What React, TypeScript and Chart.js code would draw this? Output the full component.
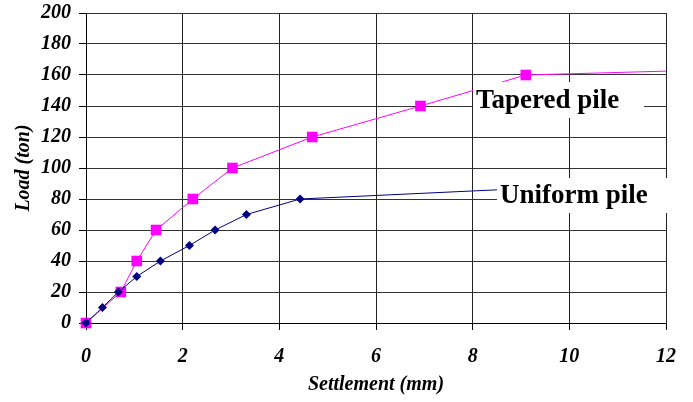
import React, { useEffect, useRef } from "react";
import { Chart, registerables } from "chart.js";

Chart.register(...registerables);

const taperedX = [0, 0.72, 1.05, 1.45, 2.21, 3.03, 4.68, 6.92, 9.1, 12];
const taperedY = [0, 20, 40, 60, 80, 100, 120, 140, 160, 162.5];
const uniformX = [0, 0.34, 0.67, 1.05, 1.54, 2.14, 2.67, 3.32, 4.43, 12];
const uniformY = [0, 10, 20, 30, 40, 50, 60, 70, 80, 91];
const seriesNames = ["Tapered pile", "Uniform pile"];
const xTitle = "Settlement (mm)";
const yTitle = "Load (ton)";

const SERIF = "'Liberation Serif', 'Times New Roman', serif";

const labelPlugin = {
  id: "seriesLabels",
  afterDatasetsDraw(chart: any) {
    const { ctx, chartArea } = chart;
    ctx.save();
    ctx.font = `bold 27px ${SERIF}`;
    ctx.textBaseline = "middle";
    ctx.textAlign = "left";
    const boxes = [
      { text: seriesNames[0], x: chartArea.left + 387, y: chartArea.top + 69, w: 171, h: 36 },
      { text: seriesNames[1], x: chartArea.left + 411, y: chartArea.top + 165, w: 178, h: 35 },
    ];
    for (const b of boxes) {
      ctx.fillStyle = "#ffffff";
      ctx.fillRect(b.x, b.y, b.w, b.h);
      ctx.fillStyle = "#000000";
      ctx.fillText(b.text, b.x + 3, b.y + b.h / 2 + 1);
    }
    ctx.restore();
  },
};

export default function App() {
  const ref = useRef<HTMLCanvasElement>(null);
  useEffect(() => {
    document.body.style.margin = "0";
    const toPts = (xs: number[], ys: number[]) => xs.map((x, i) => ({ x, y: ys[i] }));
    const chart = new Chart(ref.current!, {
      type: "scatter",
      data: {
        datasets: [
          {
            label: seriesNames[1],
            data: toPts(uniformX, uniformY),
            showLine: true,
            borderColor: "#000080",
            backgroundColor: "#000080",
            borderWidth: 1,
            pointStyle: "rectRot",
            pointRadius: (c: any) => (c.dataIndex === uniformX.length - 1 ? 0 : 4.5),
            pointBorderWidth: 0,
            clip: false,
          },
          {
            label: seriesNames[0],
            data: toPts(taperedX, taperedY),
            showLine: true,
            borderColor: "#ff00ff",
            backgroundColor: "#ff00ff",
            borderWidth: 1,
            pointStyle: "rect",
            pointRadius: (c: any) => (c.dataIndex === taperedX.length - 1 ? 0 : 7.5),
            pointBorderWidth: 0,
            clip: false,
          },
        ],
      },
      options: {
        animation: false,
        responsive: false,
        maintainAspectRatio: false,
        layout: { padding: { left: 0, right: 27, top: 13, bottom: 0 } },
        plugins: { legend: { display: false }, tooltip: { enabled: false } },
        scales: {
          x: {
            type: "linear",
            min: 0,
            max: 12,
            afterFit: (s: any) => {
              s.height = 79;
              s.paddingLeft = 0;
              s.paddingRight = 0;
            },
            ticks: {
              stepSize: 2,
              color: "#000",
              padding: 15,
              font: { family: SERIF, size: 20, weight: "bold", style: "italic" },
            },
            grid: { color: "#222", lineWidth: 1, tickLength: 7, tickColor: "#000" },
            border: { color: "#000", width: 1 },
            title: {
              display: true,
              text: xTitle,
              color: "#000",
              padding: { top: 0, bottom: 5 },
              font: { family: SERIF, size: 20, weight: "bold", style: "italic" },
            },
          },
          y: {
            type: "linear",
            min: 0,
            max: 200,
            afterFit: (s: any) => {
              s.width = 86;
              s.paddingTop = 0;
              s.paddingBottom = 0;
            },
            ticks: {
              stepSize: 20,
              color: "#000",
              padding: 8,
              font: { family: SERIF, size: 20, weight: "bold", style: "italic" },
            },
            grid: { color: "#333", lineWidth: 1, tickLength: 7, tickColor: "#000" },
            border: { color: "#000", width: 1 },
            title: {
              display: true,
              text: yTitle,
              color: "#000",
              padding: { top: 12, bottom: 0 },
              font: { family: SERIF, size: 20, weight: "bold", style: "italic" },
            },
          },
        },
      },
      plugins: [labelPlugin],
    } as any);
    return () => chart.destroy();
  }, []);
  return (
    <div style={{ width: 693, height: 402, background: "#fff" }}>
      <canvas ref={ref} width={693} height={402} style={{ display: "block" }} />
    </div>
  );
}
